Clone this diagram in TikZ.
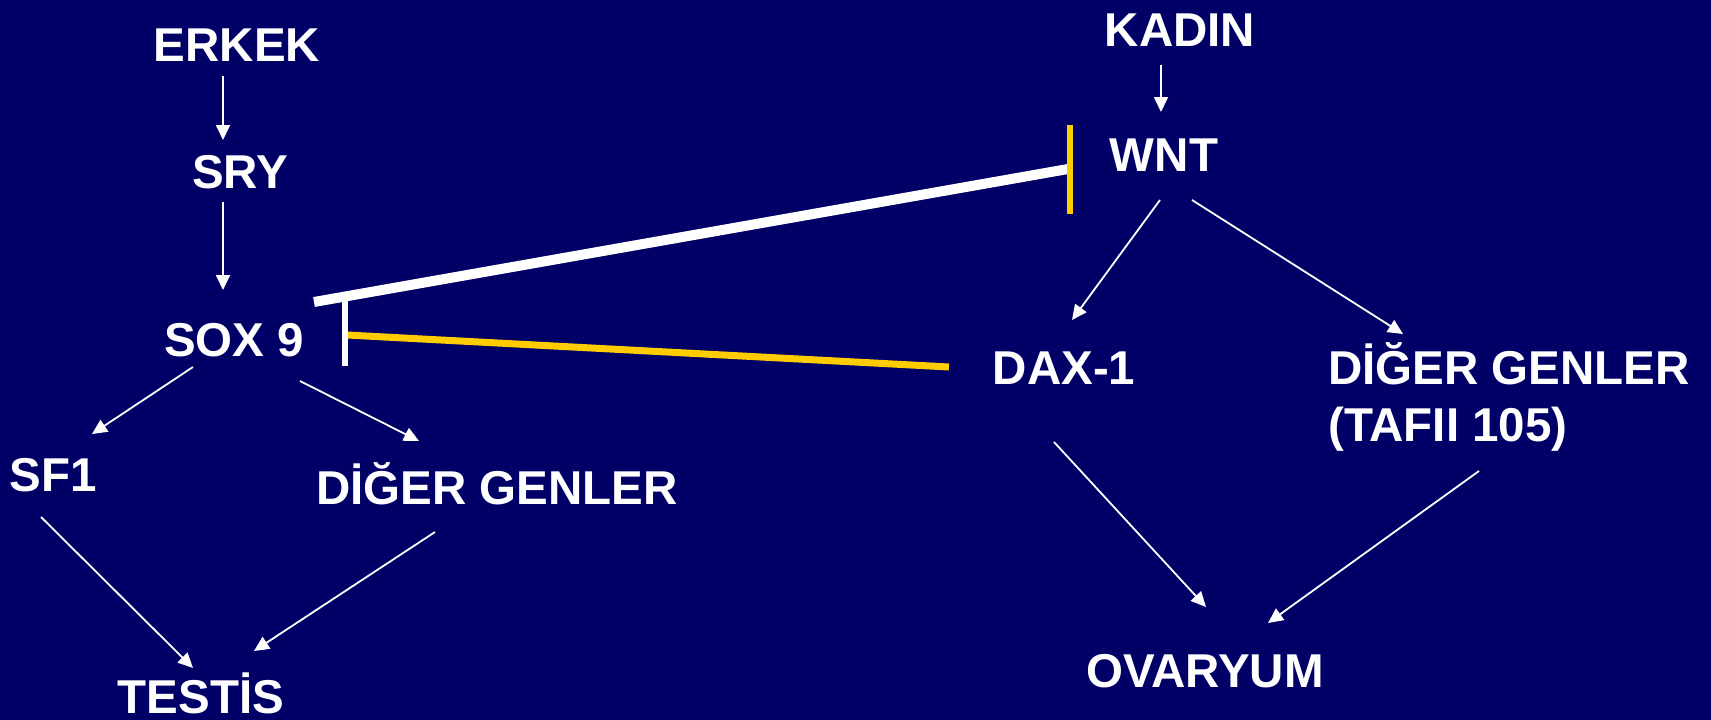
\documentclass[tikz,border=0pt]{standalone}
\usepackage{fontspec}
\setmainfont{Liberation Sans}
\usetikzlibrary{arrows.meta}
\definecolor{bgnavy}{RGB}{0,0,102}
\definecolor{inhyellow}{RGB}{255,204,0}
\tikzset{
  lbl/.style={text=white, font=\bfseries\fontsize{47.5}{57}\selectfont, inner sep=0pt, anchor=base},
  arr/.style={draw=white, line width=1.8pt, -{Triangle[length=15pt,width=14pt]}},
  thickwhite/.style={draw=white, line width=10pt},
  yline/.style={draw=inhyellow, line width=7pt},
  wbar/.style={draw=white, line width=6.5pt},
  ybar/.style={draw=inhyellow, line width=6.5pt}
}
\begin{document}
\begin{tikzpicture}[x=1pt,y=-1pt]
\fill[bgnavy] (0,0) rectangle (1711,720);
\useasboundingbox (0,0) rectangle (1711,720);

\node[lbl] (erkek) at (237,61) {ERKEK};
\node[lbl] (sry) at (240,188) {SRY};
\node[lbl] (sox) at (234,356) {SOX 9};
\node[lbl] (sf1) at (53,491) {SF1};
\node[lbl] (dig1) at (497,504) {DİĞER GENLER};
\node[lbl] (testis) at (201,713) {TESTİS};
\node[lbl] (kadin) at (1180,46) {KADIN};
\node[lbl] (wnt) at (1164,171) {WNT};
\node[lbl] (dax) at (1064,384) {DAX-1};
\node[lbl, anchor=base west, align=left] (dig2) at (1328,441) {DİĞER GENLER\\(TAFII 105)};
\node[lbl] (ovaryum) at (1205,687) {OVARYUM};

% male pathway
\draw[arr] ([shift={(-14,15)}]erkek.base) -- ([shift={(-17,-48)}]sry.base);
\draw[arr] ([shift={(-17,14)}]sry.base) -- ([shift={(-11,-66)}]sox.base);
\draw[arr] ([shift={(-41,11)}]sox.base) -- ([shift={(39,-57)}]sf1.base);
\draw[arr] ([shift={(66,25)}]sox.base) -- ([shift={(-78,-63)}]dig1.base);
\draw[arr] ([shift={(-12,26)}]sf1.base) -- ([shift={(-8,-45)}]testis.base);
\draw[arr] ([shift={(-62,28)}]dig1.base) -- ([shift={(53,-62)}]testis.base);

% female pathway
\draw[arr] ([shift={(-19,19)}]kadin.base) -- ([shift={(-3,-59)}]wnt.base);
\draw[arr] ([shift={(-4,29)}]wnt.base) -- ([shift={(8,-64)}]dax.base);
\draw[arr] ([shift={(28,29)}]wnt.base) -- ([shift={(75,-107)}]dig2.base west);
\draw[arr] ([shift={(-10,58)}]dax.base) -- ([shift={(1,-80)}]ovaryum.base);
\draw[arr] ([shift={(151,30)}]dig2.base west) -- ([shift={(63,-64)}]ovaryum.base);

% inhibitions
\draw[thickwhite] ([shift={(80,-54)}]sox.base) -- ([shift={(-96,-2)}]wnt.base);
\draw[ybar] ([shift={(-94,-46)}]wnt.base) -- ([shift={(-94,43)}]wnt.base);
\draw[yline] ([shift={(113,-21)}]sox.base) -- ([shift={(-115,-17)}]dax.base);
\draw[wbar] ([shift={(111,-64)}]sox.base) -- ([shift={(111,10)}]sox.base);
\end{tikzpicture}
\end{document}
